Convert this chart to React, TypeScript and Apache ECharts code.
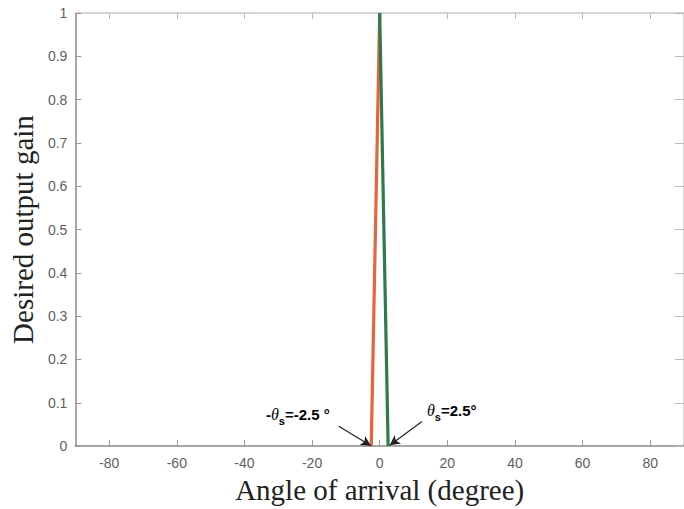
import React, { useEffect, useRef } from "react";
import * as echarts from "echarts";

const leftAngles = [-2.5, 0];
const leftGain = [0, 1];
const rightAngles = [0, 2.5];
const rightGain = [1, 0];
const xTicks = [-80, -60, -40, -20, 0, 20, 40, 60, 80];
const yTicks = [0, 0.1, 0.2, 0.3, 0.4, 0.5, 0.6, 0.7, 0.8, 0.9, 1];
const leftArrow = [[-12.1, 0.046], [-2.6, 0.001]];
const rightArrow = [[12.5, 0.057], [3.0, 0.002]];

export default function App() {
  const ref = useRef<HTMLDivElement>(null);
  useEffect(() => {
    if (!ref.current) return;
    const chart = echarts.init(ref.current, null, { renderer: "svg" });
    const tickFont = { fontFamily: "Liberation Sans", fontSize: 14, color: "#5f5f5f" };
    const rich = {
      n: { fontFamily: "Liberation Sans", fontSize: 15, color: "#444", fontWeight: "bold" as const },
      i: { fontFamily: "Liberation Serif", fontSize: 16, color: "#444", fontStyle: "italic" as const },
      s: { fontFamily: "Liberation Sans", fontSize: 11, color: "#444", fontWeight: "bold" as const, padding: [12, 0, 0, 0] },
    };
    const yLabel = (v: number) => (yTicks.some((t) => Math.abs(t - v) < 1e-9) ? String(Math.round(v * 10) / 10) : "");
    chart.setOption({
      animation: false,
      backgroundColor: "#fff",
      grid: { left: 72, top: 13, width: 620, height: 439, containLabel: false, show: false },
      xAxis: [
        {
          type: "value",
          min: -90,
          max: 90,
          position: "bottom",
          axisLine: { onZero: false, lineStyle: { color: "#8a8a8a", width: 1.5 } },
          axisTick: { inside: true, length: 6, lineStyle: { color: "#999" }, customValues: xTicks },
          axisLabel: { ...tickFont, margin: 10, customValues: xTicks },
          splitLine: { show: false },
          name: "Angle of arrival (degree)",
          nameLocation: "middle",
          nameGap: 23,
          nameTextStyle: { fontFamily: "Liberation Serif", fontSize: 29, color: "#222", verticalAlign: "top" },
        },
        {
          type: "value",
          min: -90,
          max: 90,
          position: "top",
          axisLine: { show: true, onZero: false, lineStyle: { color: "#c8c8c8", width: 1.5 } },
          axisTick: { show: true, inside: true, length: 6, lineStyle: { color: "#bbb" }, customValues: xTicks },
          axisLabel: { show: false },
          splitLine: { show: false },
        },
      ],
      yAxis: [
        {
          type: "value",
          min: 0,
          max: 1,
          interval: 0.1,
          position: "left",
          axisLine: { show: true, onZero: false, lineStyle: { color: "#8a8a8a", width: 1.5 } },
          axisTick: { show: true, inside: true, length: 6, lineStyle: { color: "#999" } },
          axisLabel: { ...tickFont, margin: 8, formatter: yLabel },
          splitLine: { show: false },
          name: "Desired output gain",
          nameLocation: "middle",
          nameGap: 36,
          nameTextStyle: { fontFamily: "Liberation Serif", fontSize: 29, color: "#222" },
        },
        {
          type: "value",
          min: 0,
          max: 1,
          interval: 0.1,
          position: "right",
          axisLine: { show: true, onZero: false, lineStyle: { color: "#c8c8c8", width: 1.5 } },
          axisTick: { show: true, inside: true, length: 9, lineStyle: { color: "#bbb" } },
          axisLabel: { show: false },
          splitLine: { show: false },
        },
      ],
      series: [
        {
          type: "line",
          data: leftAngles.map((a, i) => [a, leftGain[i]]),
          symbol: "none",
          lineStyle: { color: "#e8643a", width: 3.2 },
          z: 3,
        },
        {
          type: "line",
          data: rightAngles.map((a, i) => [a, rightGain[i]]),
          symbol: "none",
          lineStyle: { color: "#2e7a4c", width: 3.2 },
          z: 4,
          markLine: {
            silent: true,
            symbol: ["none", "arrow"],
            symbolSize: [8, 10],
            label: { show: false },
            lineStyle: { color: "#222", width: 1.2, type: "solid" },
            data: [
              [{ coord: leftArrow[0] }, { coord: leftArrow[1] }],
              [{ coord: rightArrow[0] }, { coord: rightArrow[1] }],
            ],
          },
        },
      ],
      graphic: [
        {
          type: "text",
          x: 266,
          y: 403,
          style: { text: "{n|-}{i|θ}{s|s}{n|=-2.5 °}", rich },
        },
        {
          type: "text",
          x: 427,
          y: 399,
          style: { text: "{i|θ}{s|s}{n|=2.5°}", rich },
        },
      ],
    });
    return () => chart.dispose();
  }, []);
  return <div ref={ref} style={{ position: "fixed", left: 0, top: 0, width: 684, height: 509 }} />;
}
